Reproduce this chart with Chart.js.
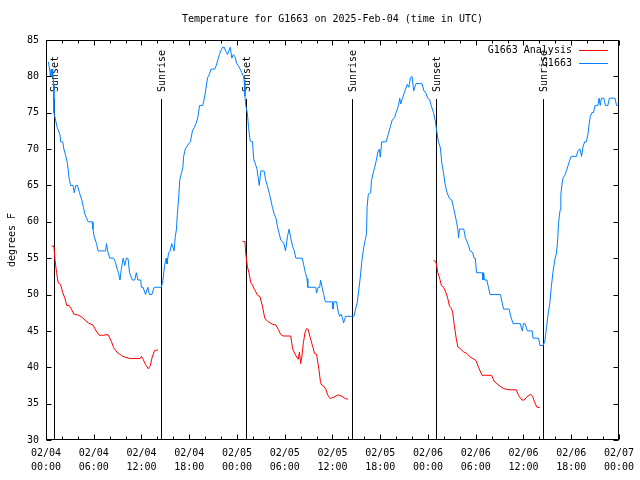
<!DOCTYPE html>
<html><head><meta charset="utf-8">
<script src="https://cdn.jsdelivr.net/npm/chart.js@4"></script>
<style>html,body{margin:0;padding:0;background:#fff;}canvas{display:block;}</style>
</head><body>
<canvas id="c" width="640" height="480"></canvas>
<script>
// ---- data (hours since 02/04 00:00 UTC, degrees F) ----
const obsHours = [
0.3,0.45,0.55,0.65,0.75,0.85,0.95,1.0,1.2,1.4,1.75,1.85,2.1,2.25,2.5,2.7,2.9,3.1,3.4,3.55,3.75,3.95,4.2,4.5,4.7,4.9,5.1,5.3,5.8,5.9,6.05,6.35,6.55,7.5,7.6,7.75,8.0,8.5,8.7,8.95,9.1,9.3,9.45,9.7,9.9,10.1,10.3,10.5,10.85,11.15,11.35,11.55,11.9,12.0,12.2,12.5,12.8,13.0,13.3,13.6,14.5,14.7,14.9,15.1,15.2,15.4,15.6,15.8,16.1,16.25,16.4,16.5,16.7,16.8,17.0,17.2,17.3,17.5,17.9,
18.15,18.4,18.65,18.85,19.07,19.3,19.7,19.9,20.1,20.3,20.5,20.75,21.2,21.4,21.6,21.8,22.0,22.2,22.4,22.6,22.8,23.0,23.15,23.35,23.55,23.75,23.95,24.15,24.4,24.6,24.8,24.9,25.0,25.1,25.3,25.45,25.66,25.95,26.1,26.3,26.5,26.65,26.8,27.0,27.4,27.6,27.8,28.05,28.25,28.45,28.7,28.9,29.1,29.3,29.5,29.7,29.9,30.1,30.35,30.55,30.75,31.0,31.2,31.4,32.2,32.4,32.6,32.8,32.9,33.9,34.0,34.2,34.4,34.5,34.7,34.9,35.1,36.0,36.06,36.2,36.5,36.75,36.9,37.1,37.3,37.4,37.65,38.7,
38.9,39.1,39.3,39.5,39.7,39.95,40.15,40.28,40.35,40.5,40.8,40.9,41.1,41.3,41.5,41.7,41.9,42.0,42.2,42.75,43.0,43.3,43.5,43.8,44.0,44.3,44.45,44.57,44.8,45.1,45.4,45.6,45.8,46.0,46.2,46.5,47.25,47.5,47.75,47.96,48.2,48.4,48.7,48.9,49.1,49.3,49.55,49.75,49.95,50.15,50.4,50.7,51.0,51.2,51.4,51.6,51.75,51.85,51.95,52.5,52.7,52.9,53.1,53.3,53.6,53.8,53.95,54.1,54.85,54.9,55.0,55.1,55.4,55.6,55.8,57.1,57.3,57.5,58.2,58.4,58.7,59.6,59.85,60.0,60.2,60.5,61.1,61.2,61.9,62.07,62.5,
62.7,62.9,63.1,63.3,63.5,63.7,63.95,64.15,64.3,64.4,64.6,64.7,64.85,65.0,65.2,65.4,65.6,65.8,66.0,66.66,66.85,67.1,67.3,67.5,67.7,67.9,68.1,68.25,68.4,68.6,68.8,69.0,69.35,69.5,69.65,69.8,70.1,70.3,70.6,70.8,71.5,71.7,71.85
];
const obsTemps = [
82,81,80,81,80,81,79,75,74,73,72,71,71,70,69,68,66,65,65,64,65,65,64,63,62,61,60.5,60,60,59,58,57,56,56,57,56,55,55,54.5,53.5,53,52,53.4,55,54,55,55,53,52,52,53,52,52,51,51,50,51,50,50,51,51,52,54,55,54.2,55.7,56,57,56,58,59,61,63.7,65.7,66.6,67.5,69,70,70.7,
71,72.5,73,73.5,74.3,76,76,77,78.3,79.8,80.2,81,81,81.5,82.3,83,83.6,84,84,83.4,83,83.6,84,82.5,83,82.7,81.8,81.5,81,80.5,80,79.5,77.3,76,75,73,71.1,71,68.6,68,67.3,66.2,65,67,67,65.8,65,64,63,62,61,60.5,59.3,58.4,57.5,57.3,57,56,58,59,57.8,56.6,56,55,55,54,53,52.2,51,51,50.2,51,51,52,51,50,49,49,48,49,49,47.5,47,47.3,46.6,46.1,47,47,
48,48.8,50.6,52.4,54.7,56.6,57.7,58.4,62,63.8,64,65.7,66.6,67.5,68.4,69.6,70,68.9,71,71,72,73.2,74,74.3,75,76,77,76.2,77,78,78.9,78.5,79.8,80,78,79,79,78,77.7,77,76.8,76,75,74,72.5,71.1,70.2,68,66.8,65.2,64,63.2,63,62,61,59.9,59,57.8,59,59,57.8,57.3,56.7,56,55.8,55,55,53,53,52,53,52,52,51,50,50,49,48,48,47,46,46,45,46,46,45,45,44,44,43,43,
43.7,45.5,47.3,48.7,51,53,54.8,55.7,57.5,59.8,61.6,63.8,65.2,66.1,66.4,67,67.7,68.4,69,69,69.8,70,69,70.4,71,71,72,73.4,74.5,75,75,76,76,77,76,77,77,76,76,77,77,76,76
];
const anaHours = [
0.71,1.0,1.13,1.33,1.54,1.83,2.1,2.4,2.6,2.9,3.2,3.5,4.0,4.5,4.9,5.3,5.9,6.3,6.7,7.2,7.8,8.2,8.5,8.9,9.5,9.9,10.5,11.8,12.0,12.2,12.5,12.85,13.1,13.35,13.65,14.07,
20,
24.7,25.0,25.1,25.3,25.5,25.75,25.95,26.2,26.6,26.9,27.2,27.5,28.0,28.5,28.9,29.2,29.5,29.8,30.75,31.0,31.4,31.7,31.85,32.0,32.15,32.35,32.55,32.75,32.95,33.2,33.5,33.75,34.0,34.3,34.5,34.7,34.9,35.15,35.4,35.7,36.2,36.7,37.2,37.6,37.95,
44,
48.7,49.0,49.25,49.5,49.7,49.96,50.25,50.5,50.7,50.9,51.1,51.3,51.55,51.75,52.0,52.5,52.9,53.3,53.8,54.05,54.35,54.8,56.0,56.3,56.7,57.3,57.7,58.3,59.1,59.4,59.8,60.1,60.4,60.9,61.15,61.4,61.7,62.07
];
const anaTemps = [
56.7,56.6,54.8,53,51.6,51.4,50.3,49.4,48.5,48.5,48,47.3,47.2,46.9,46.5,46.1,45.8,45,44.4,44.4,44.5,43.6,42.7,42.1,41.6,41.4,41.2,41.2,41.5,41.1,40.4,39.8,40.2,41.4,42.3,42.4,
null,
57.3,57.3,55.7,53.9,53,51.6,51.3,50.7,49.9,49.7,48.4,46.7,46.2,45.9,45.8,45.2,44.5,44.3,44.3,42.5,41.6,41.1,42.1,40.5,41.4,43.4,44.8,45.3,45.2,44.1,42.9,41.9,41.8,39.7,37.9,37.5,37.4,37.0,36.2,35.7,35.9,36.2,36.0,35.7,35.6,
null,
54.7,54.5,53,52.1,51.2,51,50.3,49.4,48.4,48.2,47.6,45.8,44,42.8,42.6,42.1,41.9,41.4,41.1,40.9,40,38.9,38.9,38.1,37.7,37.2,37,36.9,36.9,36.1,35.5,35.5,35.9,36.3,36,35.2,34.5,34.5
];
const sunsetHours = [1.05, 25.08, 49.0];
const sunriseHours = [14.47, 38.47, 62.41];
const xTickHours = [0,6,12,18,24,30,36,42,48,54,60,66,72];
const xTickLabels = [["02/04","00:00"],["02/04","06:00"],["02/04","12:00"],["02/04","18:00"],["02/05","00:00"],["02/05","06:00"],["02/05","12:00"],["02/05","18:00"],["02/06","00:00"],["02/06","06:00"],["02/06","12:00"],["02/06","18:00"],["02/07","00:00"]];
const yTickValues = [30,35,40,45,50,55,60,65,70,75,80,85];
const seriesNames = ["G1663 Analysis", "G1663"];
const titleText = "Temperature for G1663 on 2025-Feb-04 (time in UTC)";

// ---- styling ----
const FAM = '"DejaVu Sans Mono", monospace';
const RED = '#ff0000', BLUE = '#0080ff';
const toPts = (xs, ys) => xs.map((h, i) => ({x: h, y: ys[i]}));

const overlay = {
  id: 'overlay',
  beforeDraw(chart) {
    const c = chart.ctx; c.save(); c.fillStyle = '#fff'; c.fillRect(0, 0, chart.width, chart.height); c.restore();
  },
  beforeDatasetsDraw(chart) {
    const {ctx, chartArea: a, scales: {x}} = chart;
    ctx.save();
    ctx.strokeStyle = '#000'; ctx.lineWidth = 1; ctx.fillStyle = '#000';
    ctx.font = '10px ' + FAM;
    const ev = sunsetHours.map(h => [h, 'Sunset']).concat(sunriseHours.map(h => [h, 'Sunrise']));
    for (const [h, txt] of ev) {
      const px = Math.round(x.getPixelForValue(h)) + 0.5;
      ctx.beginPath(); ctx.moveTo(px, a.top + 59); ctx.lineTo(px, a.bottom); ctx.stroke();
      ctx.save(); ctx.translate(px + 1, a.top + 52); ctx.rotate(-Math.PI / 2);
      ctx.textAlign = 'left'; ctx.textBaseline = 'middle'; ctx.fillText(txt, 0, 0);
      ctx.restore();
    }
    ctx.restore();
  },
  afterDatasetsDraw(chart) {
    const {ctx, chartArea: a, scales: {x, y}} = chart;
    ctx.save();
    ctx.strokeStyle = '#000'; ctx.lineWidth = 1;
    const L = Math.round(a.left) + 0.5, R = Math.round(a.right) - 0.5;
    const T = Math.round(a.top) + 0.5, B = Math.round(a.bottom) - 0.5;
    ctx.strokeRect(L, T, R - L, B - T);
    ctx.beginPath();
    // x ticks: major (labelled) and minor every 2 hours
    for (let h = 0; h <= 72; h += 2) {
      const px = Math.round(x.getPixelForValue(h)) + 0.5;
      const len = xTickHours.includes(h) ? 5 : 3;
      ctx.moveTo(px, B); ctx.lineTo(px, B - len);
      ctx.moveTo(px, T); ctx.lineTo(px, T + len);
    }
    for (const v of yTickValues) {
      const py = Math.round(y.getPixelForValue(v)) + 0.5;
      ctx.moveTo(L, py); ctx.lineTo(L + 5, py);
      ctx.moveTo(R, py); ctx.lineTo(R - 5, py);
    }
    ctx.stroke();
    // legend (gnuplot style: text right-aligned, sample to the right)
    ctx.font = '10px ' + FAM; ctx.fillStyle = '#000';
    ctx.textAlign = 'right'; ctx.textBaseline = 'middle';
    const cols = [RED, BLUE];
    seriesNames.forEach((name, i) => {
      const yy = a.top + 10 + i * 13;
      ctx.fillText(name, a.right - 47, yy);
      ctx.strokeStyle = cols[i];
      ctx.beginPath(); ctx.moveTo(a.right - 40, Math.round(yy) + 0.5); ctx.lineTo(a.right - 11, Math.round(yy) + 0.5); ctx.stroke();
    });
    ctx.restore();
  }
};

new Chart(document.getElementById('c'), {
  type: 'line',
  data: {
    datasets: [
      {label: seriesNames[0], data: toPts(anaHours, anaTemps), borderColor: RED, borderWidth: 1, pointRadius: 0, tension: 0, spanGaps: false},
      {label: seriesNames[1], data: toPts(obsHours, obsTemps), borderColor: BLUE, borderWidth: 1, pointRadius: 0, tension: 0}
    ]
  },
  options: {
    responsive: false, animation: false, devicePixelRatio: 1,
    layout: {padding: {left: 0, right: 19, top: 0, bottom: 0}},
    plugins: {
      legend: {display: false},
      tooltip: {enabled: false},
      title: {display: true, text: titleText, color: '#000', fullSize: false,
        font: {family: FAM, size: 10, weight: 'normal', lineHeight: 1.2},
        padding: {top: 13, bottom: 15}}
    },
    scales: {
      x: {
        type: 'linear', min: 0, max: 72, position: 'bottom',
        grid: {display: false, drawTicks: false}, border: {display: false},
        afterBuildTicks: s => { s.ticks = xTickHours.map(v => ({value: v})); },
        ticks: {autoSkip: false, maxRotation: 0, padding: 6, color: '#000',
          font: {family: FAM, size: 10, lineHeight: 1.4},
          callback: (v) => xTickLabels[xTickHours.indexOf(v)]},
        afterFit: s => { s.height = 40; }
      },
      y: {
        type: 'linear', min: 30, max: 85,
        grid: {display: false, drawTicks: false}, border: {display: false},
        afterBuildTicks: s => { s.ticks = yTickValues.map(v => ({value: v})); },
        ticks: {padding: 7, color: '#000', font: {family: FAM, size: 10}},
        title: {display: true, text: 'degrees F', color: '#000', font: {family: FAM, size: 10, lineHeight: 1.2}, padding: {top: 6, bottom: 0}},
        afterFit: s => { s.width = 46; }
      }
    }
  },
  plugins: [overlay]
});
</script>
</body></html>
